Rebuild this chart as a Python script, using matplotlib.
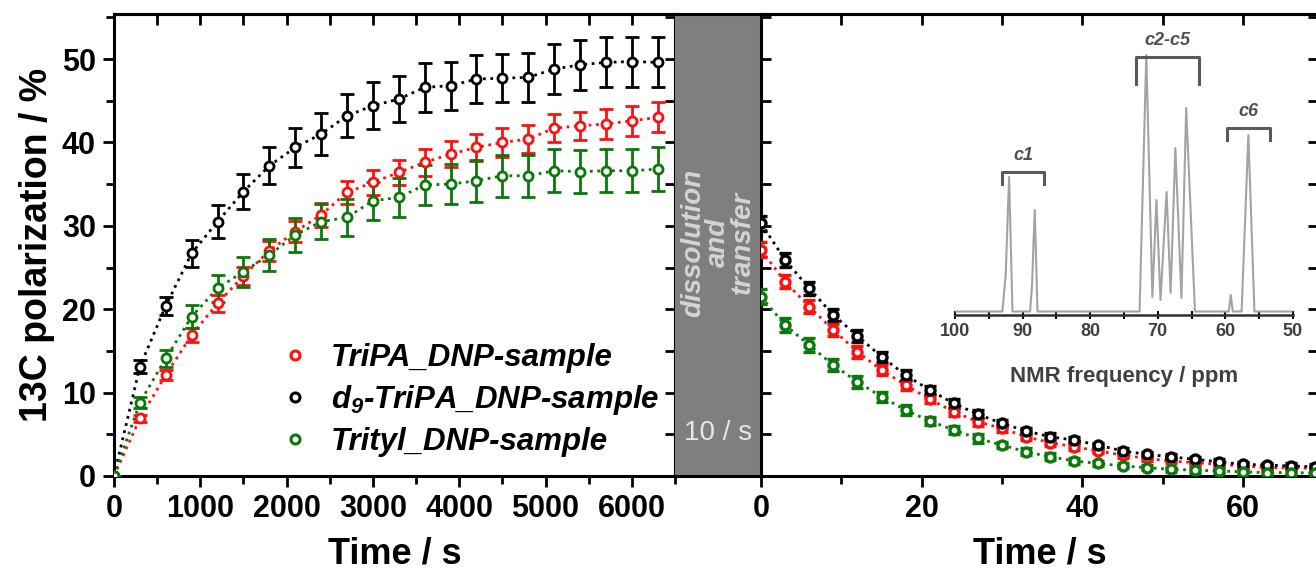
import numpy as np
import matplotlib
matplotlib.use("Agg")
import matplotlib.pyplot as plt
from matplotlib.lines import Line2D
from matplotlib.ticker import MultipleLocator

plt.rcParams['font.family'] = ['Liberation Sans', 'DejaVu Sans']
plt.rcParams['mathtext.fontset'] = 'custom'
plt.rcParams['mathtext.it'] = 'Liberation Sans:italic:bold'
plt.rcParams['mathtext.rm'] = 'Liberation Sans:italic:bold'
plt.rcParams['mathtext.bf'] = 'Liberation Sans:italic:bold'

# ---- polarization build-up (left panel), time in s ----
t_build = [0, 300, 600, 900, 1200, 1500, 1800, 2100, 2400, 2700, 3000,
           3300, 3600, 3900, 4200, 4500, 4800, 5100, 5400, 5700, 6000, 6300]
tripa_build = [0, 6.9, 12.1, 16.9, 20.7, 24.0, 27.0, 29.3, 31.3, 34.0, 35.2,
               36.4, 37.6, 38.6, 39.4, 40.0, 40.4, 41.7, 42.0, 42.2, 42.6, 43.0]
tripa_build_err = [0, 0.4, 0.6, 0.8, 1.0, 1.1, 1.2, 1.3, 1.4, 1.4, 1.5,
                   1.5, 1.6, 1.6, 1.6, 1.7, 1.7, 1.7, 1.7, 1.8, 1.8, 1.8]
d9_build = [0, 13.1, 20.4, 26.7, 30.5, 34.1, 37.2, 39.4, 41.0, 43.2, 44.4,
            45.2, 46.6, 46.8, 47.6, 47.7, 47.8, 48.8, 49.3, 49.6, 49.7, 49.6]
d9_build_err = [0, 0.8, 1.1, 1.6, 2.0, 2.1, 2.2, 2.3, 2.5, 2.6, 2.8,
                2.8, 2.9, 2.9, 2.9, 2.9, 2.9, 3.0, 3.0, 3.0, 3.0, 3.0]
trityl_build = [0, 8.8, 14.1, 19.1, 22.5, 24.5, 26.5, 28.9, 30.5, 31.0, 33.0,
                33.4, 34.9, 35.0, 35.4, 36.0, 36.0, 36.6, 36.5, 36.6, 36.6, 36.8]
trityl_build_err = [0, 0.7, 1.0, 1.4, 1.6, 1.8, 1.9, 2.0, 2.1, 2.2, 2.3,
                    2.3, 2.4, 2.4, 2.5, 2.5, 2.5, 2.6, 2.6, 2.6, 2.6, 2.6]

# ---- decay after dissolution (right panel), time in s ----
t_decay = [0, 3, 6, 9, 12, 15, 18, 21, 24, 27, 30, 33,
           36, 39, 42, 45, 48, 51, 54, 57, 60, 63, 66, 69]
tripa_decay = [27.1, 23.3, 20.3, 17.5, 14.9, 12.7, 10.9, 9.2, 7.7, 6.5, 5.7, 4.7,
               4.0, 3.5, 3.0, 2.5, 2.1, 1.8, 1.6, 1.4, 1.2, 1.0, 1.0, 0.9]
d9_decay = [30.3, 25.9, 22.5, 19.3, 16.8, 14.3, 12.1, 10.3, 8.7, 7.4, 6.3, 5.4,
            4.7, 4.3, 3.7, 3.0, 2.6, 2.3, 2.0, 1.7, 1.4, 1.3, 1.2, 1.1]
trityl_decay = [21.5, 18.1, 15.7, 13.3, 11.3, 9.5, 7.9, 6.6, 5.5, 4.5, 3.7, 2.9,
                2.3, 1.8, 1.5, 1.2, 1.0, 0.8, 0.7, 0.6, 0.5, 0.4, 0.4, 0.35]
decay_err = [0.9, 0.8, 0.8, 0.7, 0.7, 0.6, 0.6, 0.5, 0.5, 0.5, 0.4, 0.4,
             0.4, 0.4, 0.3, 0.3, 0.3, 0.3, 0.3, 0.3, 0.3, 0.3, 0.3, 0.3]

labels = ['TriPA_DNP-sample', '$d_9$-TriPA_DNP-sample', 'Trityl_DNP-sample']
colors = ['#ff1010', 'black', '#0a780a']

# ---- inset 13C spectrum (ppm, intensity a.u.) ----
nmr_ppm = [100, 93.0, 92.5, 92.2, 92.0, 91.5, 88.9, 88.6, 88.4, 88.2, 87.8,
           72.7, 71.7, 70.8, 70.2, 69.6, 68.7, 68.1, 67.4, 66.5, 65.8, 64.5,
           59.5, 59.2, 58.9, 57.6, 56.6, 55.7, 50.2]
nmr_int = [3.5, 3.5, 40, 100, 138, 3.5, 3.5, 30, 70, 105, 3.5,
           3.5, 260, 18, 115, 15, 123, 22, 167, 17, 207, 3.5,
           3.5, 20, 3.5, 3.5, 180, 3.5, 3.5]
peak_groups = ['c1', 'c2-c5', 'c6']
group_span = [(93.1, 86.8), (73.2, 63.9), (59.8, 53.4)]
group_top = [143, 258, 187]

fig = plt.figure(figsize=(13.16, 5.78), dpi=100)

ax1 = fig.add_axes([0.0866, 0.1765, 0.4263, 0.7993])
axg = fig.add_axes([0.5129, 0.1765, 0.0653, 0.7993])
ax2 = fig.add_axes([0.5783, 0.1765, 0.4233, 0.7993])

lw_sp = 2.2
tick_kw = dict(width=2, labelsize=22)

def style(ax):
    for s in ax.spines.values():
        s.set_linewidth(lw_sp)
    ax.set_ylim(0, 55.4)
    ax.yaxis.set_major_locator(MultipleLocator(10))
    ax.yaxis.set_minor_locator(MultipleLocator(5))
    for lab in ax.get_xticklabels() + ax.get_yticklabels():
        lab.set_fontweight('bold')

# left panel
for y, e, c in zip([tripa_build, d9_build, trityl_build],
                   [tripa_build_err, d9_build_err, trityl_build_err], colors):
    ax1.plot(t_build, y, ls=':', color=c, lw=2)
    ax1.errorbar(t_build, y, yerr=e, fmt='o', color=c, ms=6.5, mfc='white',
                 mew=2, elinewidth=2, capsize=5, capthick=2, zorder=3)
ax1.set_xlim(0, 6500)
ax1.xaxis.set_major_locator(MultipleLocator(1000))
ax1.xaxis.set_minor_locator(MultipleLocator(500))
ax1.tick_params(which='both', direction='out', top=False, right=False, pad=5, **tick_kw)
ax1.tick_params(which='major', length=8)
ax1.tick_params(which='minor', length=6)
style(ax1)
sec = ax1.secondary_xaxis('top')
sec.xaxis.set_major_locator(MultipleLocator(500))
sec.tick_params(direction='in', length=8, width=2, labeltop=False)
sec.spines['top'].set_linewidth(lw_sp)
sec = ax1.secondary_yaxis('right')
sec.yaxis.set_major_locator(MultipleLocator(5))
sec.tick_params(direction='in', length=7, width=2, labelright=False)
sec.spines['right'].set_linewidth(lw_sp)
ax1.set_ylabel('13C polarization / %', fontsize=27, fontweight='bold')
ax1.yaxis.set_label_coords(-0.105, 0.5)
ax1.set_xlabel('Time / s', fontsize=26, fontweight='bold')
ax1.xaxis.set_label_coords(0.5, -0.13)

handles = [Line2D([], [], marker='o', ls='none', color=c, mfc='white', ms=6.5, mew=2.2)
           for c in colors]
ax1.legend(handles, labels, loc='center left', bbox_to_anchor=(0.30, 0.165),
           frameon=False, handlelength=0.8, handletextpad=0.75, labelspacing=0.32,
           borderpad=0, borderaxespad=0,
           prop=dict(size=22.5, weight='bold', style='italic'))

# gray transfer band
axg.set_facecolor('#7f7f7f')
axg.set_xticks([])
axg.set_yticks([])
axg.spines['left'].set_visible(False)
axg.spines['right'].set_visible(False)
axg.spines['top'].set_linewidth(lw_sp)
axg.spines['bottom'].set_linewidth(lw_sp)
axg.text(0.5, 0.505, 'dissolution\nand\ntransfer', transform=axg.transAxes,
         rotation=90, ha='center', va='center', multialignment='center',
         color='#d4d4d4', fontsize=20, fontweight='bold', fontstyle='italic',
         linespacing=0.95)
axg.text(0.5, 0.093, '10 / s', transform=axg.transAxes, ha='center', va='center',
         color='#e6e6e6', fontsize=20)

# right panel
for y, c in zip([tripa_decay, d9_decay, trityl_decay], colors):
    ax2.plot(t_decay, y, ls=':', color=c, lw=2)
    ax2.errorbar(t_decay, y, yerr=decay_err, fmt='o', color=c, ms=6.5, mfc='white',
                 mew=2.4, elinewidth=2, capsize=4, capthick=2, zorder=3)
ax2.set_xlim(0, 69.35)
ax2.xaxis.set_major_locator(MultipleLocator(20))
ax2.xaxis.set_minor_locator(MultipleLocator(10))
ax2.tick_params(axis='x', which='both', direction='out', top=False, pad=5, **tick_kw)
ax2.tick_params(axis='x', which='major', length=8)
ax2.tick_params(axis='x', which='minor', length=6)
ax2.tick_params(axis='y', which='both', direction='in', left=True, right=True,
                labelleft=False, length=7, width=2)
style(ax2)
sec = ax2.secondary_xaxis('top')
sec.xaxis.set_major_locator(MultipleLocator(10))
sec.tick_params(direction='in', length=8, width=2, labeltop=False)
sec.spines['top'].set_linewidth(lw_sp)
ax2.set_xlabel('Time / s', fontsize=26, fontweight='bold')
ax2.xaxis.set_label_coords(0.5, -0.13)

# inset spectrum
axin = fig.add_axes([0.7257, 0.455, 0.2568, 0.4931], facecolor='none')
axin.plot(nmr_ppm, nmr_int, color='#a3a3a3', lw=1.5)
for name, (x1, x2), top in zip(peak_groups, group_span, group_top):
    leg = top - (27 if name == 'c2-c5' else 12)
    axin.plot([x1, x1, x2, x2], [leg, top, top, leg], color='#595959', lw=2.2)
    axin.text((x1 + x2) / 2, top + 8, name, ha='center', va='bottom', color='#505050',
              fontsize=13, fontweight='bold', fontstyle='italic')
axin.set_xlim(100, 50)
axin.set_ylim(0, 285)
for s in ['top', 'left', 'right']:
    axin.spines[s].set_visible(False)
axin.spines['bottom'].set_linewidth(1.8)
axin.spines['bottom'].set_color('#303030')
axin.set_yticks([])
axin.xaxis.set_major_locator(MultipleLocator(10))
axin.xaxis.set_minor_locator(MultipleLocator(5))
axin.tick_params(axis='x', which='both', direction='inout', length=6, width=1.5,
                 labelsize=13, labelcolor='#404040', pad=3)
for lab in axin.get_xticklabels():
    lab.set_fontweight('bold')
axin.text(0.5, -0.216, 'NMR frequency / ppm', transform=axin.transAxes,
          ha='center', va='center', fontsize=16, fontweight='bold', color='#404040')

fig.savefig('out.png', dpi=100)
